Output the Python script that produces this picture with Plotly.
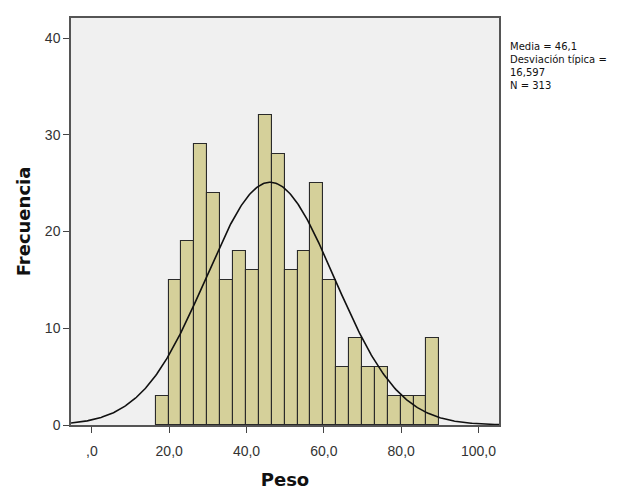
import numpy as np
import plotly.graph_objects as go

# Histogram data
bin_start = 16.5
bin_width = 3.335
counts = [3, 15, 19, 29, 24, 15, 18, 16, 32, 28, 16, 18, 25, 15, 6, 9, 6, 6, 3, 3, 3, 9]

# Summary statistics shown in the chart
mean = 46.1
sd = 16.597
n = 313

x_tick_vals = [0, 20, 40, 60, 80, 100]
x_tick_text = [",0", "20,0", "40,0", "60,0", "80,0", "100,0"]
y_tick_vals = [0, 10, 20, 30, 40]

centers = [bin_start + bin_width * (i + 0.5) for i in range(len(counts))]

xs = np.linspace(-5.4, 105.3, 400)
ys = n * bin_width / (sd * np.sqrt(2 * np.pi)) * np.exp(-0.5 * ((xs - mean) / sd) ** 2)

fig = go.Figure()
fig.add_trace(go.Bar(
    x=centers, y=counts, width=bin_width,
    marker=dict(color="#d5d09a", line=dict(color="#2a2a2a", width=1.1)),
    hoverinfo="skip",
))
fig.add_trace(go.Scatter(
    x=xs, y=ys, mode="lines",
    line=dict(color="#111111", width=1.6),
    hoverinfo="skip",
))

fig.update_layout(
    width=624, height=496,
    margin=dict(l=71, r=125, t=18, b=71),
    paper_bgcolor="white",
    plot_bgcolor="#f0f0f0",
    showlegend=False,
    bargap=0,
    font=dict(family="Liberation Sans, Arial, sans-serif", color="#333333"),
    xaxis=dict(
        range=[-5.4, 105.3],
        automargin=False,
        tickvals=x_tick_vals, ticktext=x_tick_text,
        ticks="outside", ticklen=6, tickcolor="#444444",
        ticklabelstandoff=6,
        tickfont=dict(size=14, color="#333333"),
        showgrid=False, zeroline=False,
        showline=True, linecolor="#555555", linewidth=1.5, mirror=True,
        title=dict(text="<b>Peso</b>", font=dict(size=18, color="#111111",
                   family="DejaVu Sans, sans-serif"), standoff=16),
    ),
    yaxis=dict(
        range=[0, 42.07],
        automargin=False,
        tickvals=y_tick_vals,
        ticks="outside", ticklen=6, tickcolor="#444444",
        tickfont=dict(size=14, color="#333333"),
        showgrid=False, zeroline=False,
        showline=True, linecolor="#555555", linewidth=1.5, mirror=True,
        title=dict(text="<b>Frecuencia</b>", font=dict(size=18, color="#111111",
                   family="DejaVu Sans, sans-serif"), standoff=10),
    ),
)

fig.add_annotation(
    xref="paper", yref="paper", x=1.022, y=0.948,
    xanchor="left", yanchor="top", align="left", showarrow=False,
    text="Media = 46,1<br>Desviación típica =<br>16,597<br>N = 313",
    font=dict(size=10, color="#111111", family="DejaVu Sans, sans-serif"),
)

fig.write_html("out.html")
